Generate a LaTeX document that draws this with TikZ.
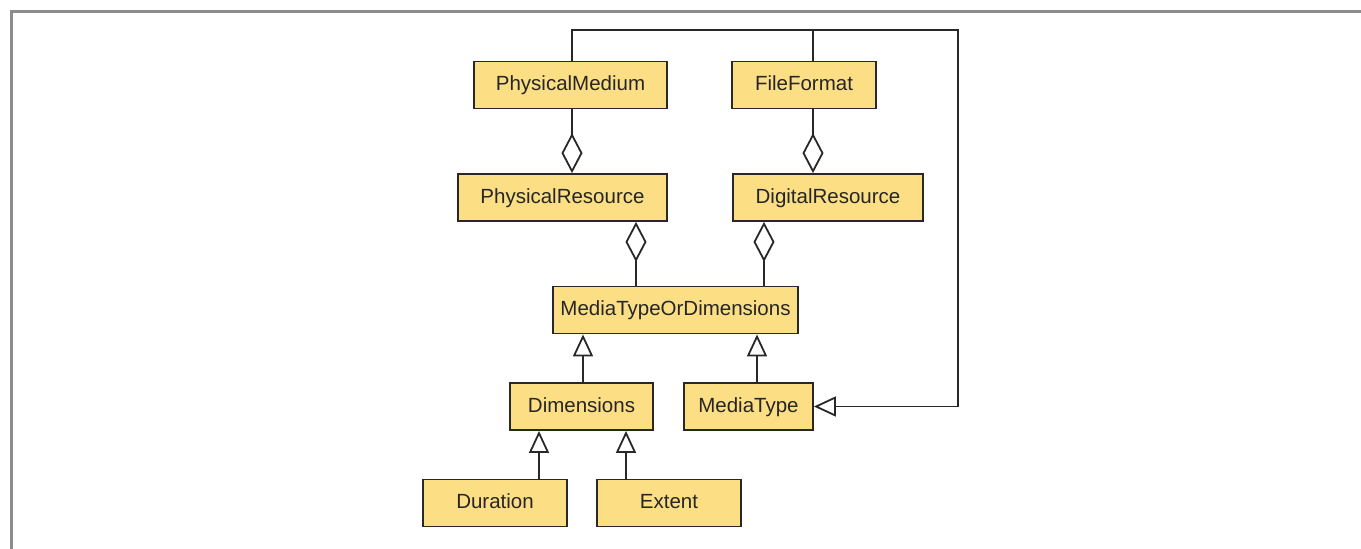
\documentclass[tikz,border=0pt]{standalone}
\usepackage{fontspec}
\setmainfont{Liberation Sans}
\usetikzlibrary{arrows.meta}
\definecolor{boxfill}{RGB}{252,222,132}
\definecolor{boxline}{RGB}{40,40,40}
\definecolor{framegray}{RGB}{140,140,140}
\begin{document}
\begin{tikzpicture}[x=1pt,y=-1pt,
  cls/.style={draw=boxline,line width=1.8pt,fill=boxfill,minimum height=47pt,inner sep=0pt,text height=15pt,text depth=4pt,font=\fontsize{20.5}{24}\selectfont,text=black!85},
  conn/.style={draw=boxline,line width=1.8pt},
  agg/.style={conn,{Diamond[open,length=40pt,width=21pt,line width=1.8pt]}-},
  gen/.style={conn,-{Triangle[open,length=22pt,width=20pt,line width=1.8pt]}}]
\useasboundingbox (0,0) rectangle (1361,549);
\draw[framegray,line width=3pt] (11,549) -- (11,11) -- (1361,11);
% classes
\node[cls,minimum width=193pt] (PM) at (570.5,85) {PhysicalMedium};
\node[cls,minimum width=144pt] (FF) at (804,85) {FileFormat};
\node[cls,minimum width=209pt] (PR) at (562.5,197.5) {PhysicalResource};
\node[cls,minimum width=190pt] (DR) at (828,197.5) {DigitalResource};
\node[cls,minimum width=245pt] (MTOD) at (675.5,310) {MediaTypeOrDimensions};
\node[cls,minimum width=143pt] (Dim) at (581.5,406.5) {Dimensions};
\node[cls,minimum width=129pt] (MT) at (748.5,406.5) {MediaType};
\node[cls,minimum width=144pt] (Dur) at (495,503) {Duration};
\node[cls,minimum width=144pt] (Ext) at (669,503) {Extent};
% helper coordinates
\coordinate (xa) at (572,0);
\coordinate (xb) at (813,0);
\coordinate (xc) at (636,0);
\coordinate (xd) at (764,0);
\coordinate (xe) at (583,0);
\coordinate (xf) at (757,0);
\coordinate (xg) at (539,0);
\coordinate (xh) at (626,0);
\coordinate (top) at (958,30);
% aggregations
\draw[agg] (PR.north -| xa) -- (PM.south -| xa);
\draw[agg] (DR.north -| xb) -- (FF.south -| xb);
\draw[agg] (PR.south -| xc) -- (MTOD.north -| xc);
\draw[agg] (DR.south -| xd) -- (MTOD.north -| xd);
% generalisations
\draw[gen] (Dim.north -| xe) -- (MTOD.south -| xe);
\draw[gen] (MT.north -| xf) -- (MTOD.south -| xf);
\draw[gen] (Dur.north -| xg) -- (Dim.south -| xg);
\draw[gen] (Ext.north -| xh) -- (Dim.south -| xh);
% tree from top
\draw[gen] (PM.north -| xa) -- (xa |- top) -- (top) -- (top |- MT.east) -- (MT.east);
\draw[conn] (FF.north -| xb) -- (xb |- top);
\end{tikzpicture}
\end{document}
